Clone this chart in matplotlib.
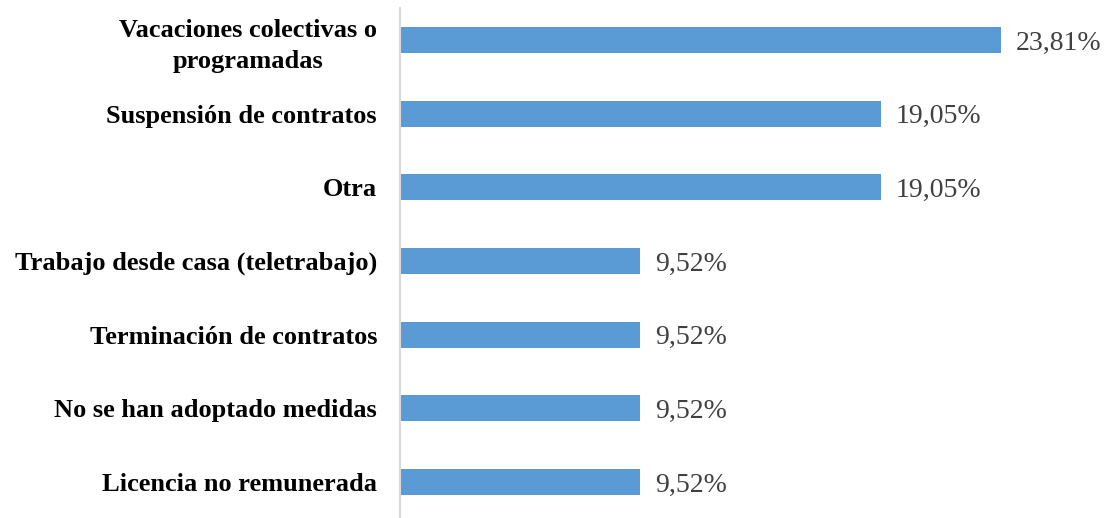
import matplotlib.pyplot as plt

categories = [
    "Vacaciones colectivas o\nprogramadas",
    "Suspensión de contratos",
    "Otra",
    "Trabajo desde casa (teletrabajo)",
    "Terminación de contratos",
    "No se han adoptado medidas",
    "Licencia no remunerada",
]
values = [23.81, 19.05, 19.05, 9.52, 9.52, 9.52, 9.52]
value_labels = ["23,81%", "19,05%", "19,05%", "9,52%", "9,52%", "9,52%", "9,52%"]

plt.rcParams["font.family"] = ["Liberation Serif", "DejaVu Serif"]

fig = plt.figure(figsize=(11.10, 5.18), dpi=100)
ax = fig.add_axes([400 / 1110, 0, 710 / 1110, 510 / 518])

pos = list(range(len(categories)))
ax.barh(pos, values, height=0.353, color="#5B9BD5")
for p, v, lab in zip(pos, values, value_labels):
    ax.text(v + 0.6, p, lab, va="center_baseline", ha="left", fontsize=20, color="#404040")

ax.set_xlim(0, 710 / 25.24)
ax.set_ylim(6.489, -0.434)
ax.set_yticks(pos)
ax.set_yticklabels(categories, fontsize=19, fontweight="bold",
                   linespacing=1.4, multialignment="center", va="center_baseline")
ax.tick_params(axis="y", length=0, pad=16.5)
ax.set_xticks([])
for s in ["top", "right", "bottom"]:
    ax.spines[s].set_visible(False)
ax.spines["left"].set_color("#d9d9d9")
ax.spines["left"].set_linewidth(1.5)

fig.savefig("out.png", dpi=100)
